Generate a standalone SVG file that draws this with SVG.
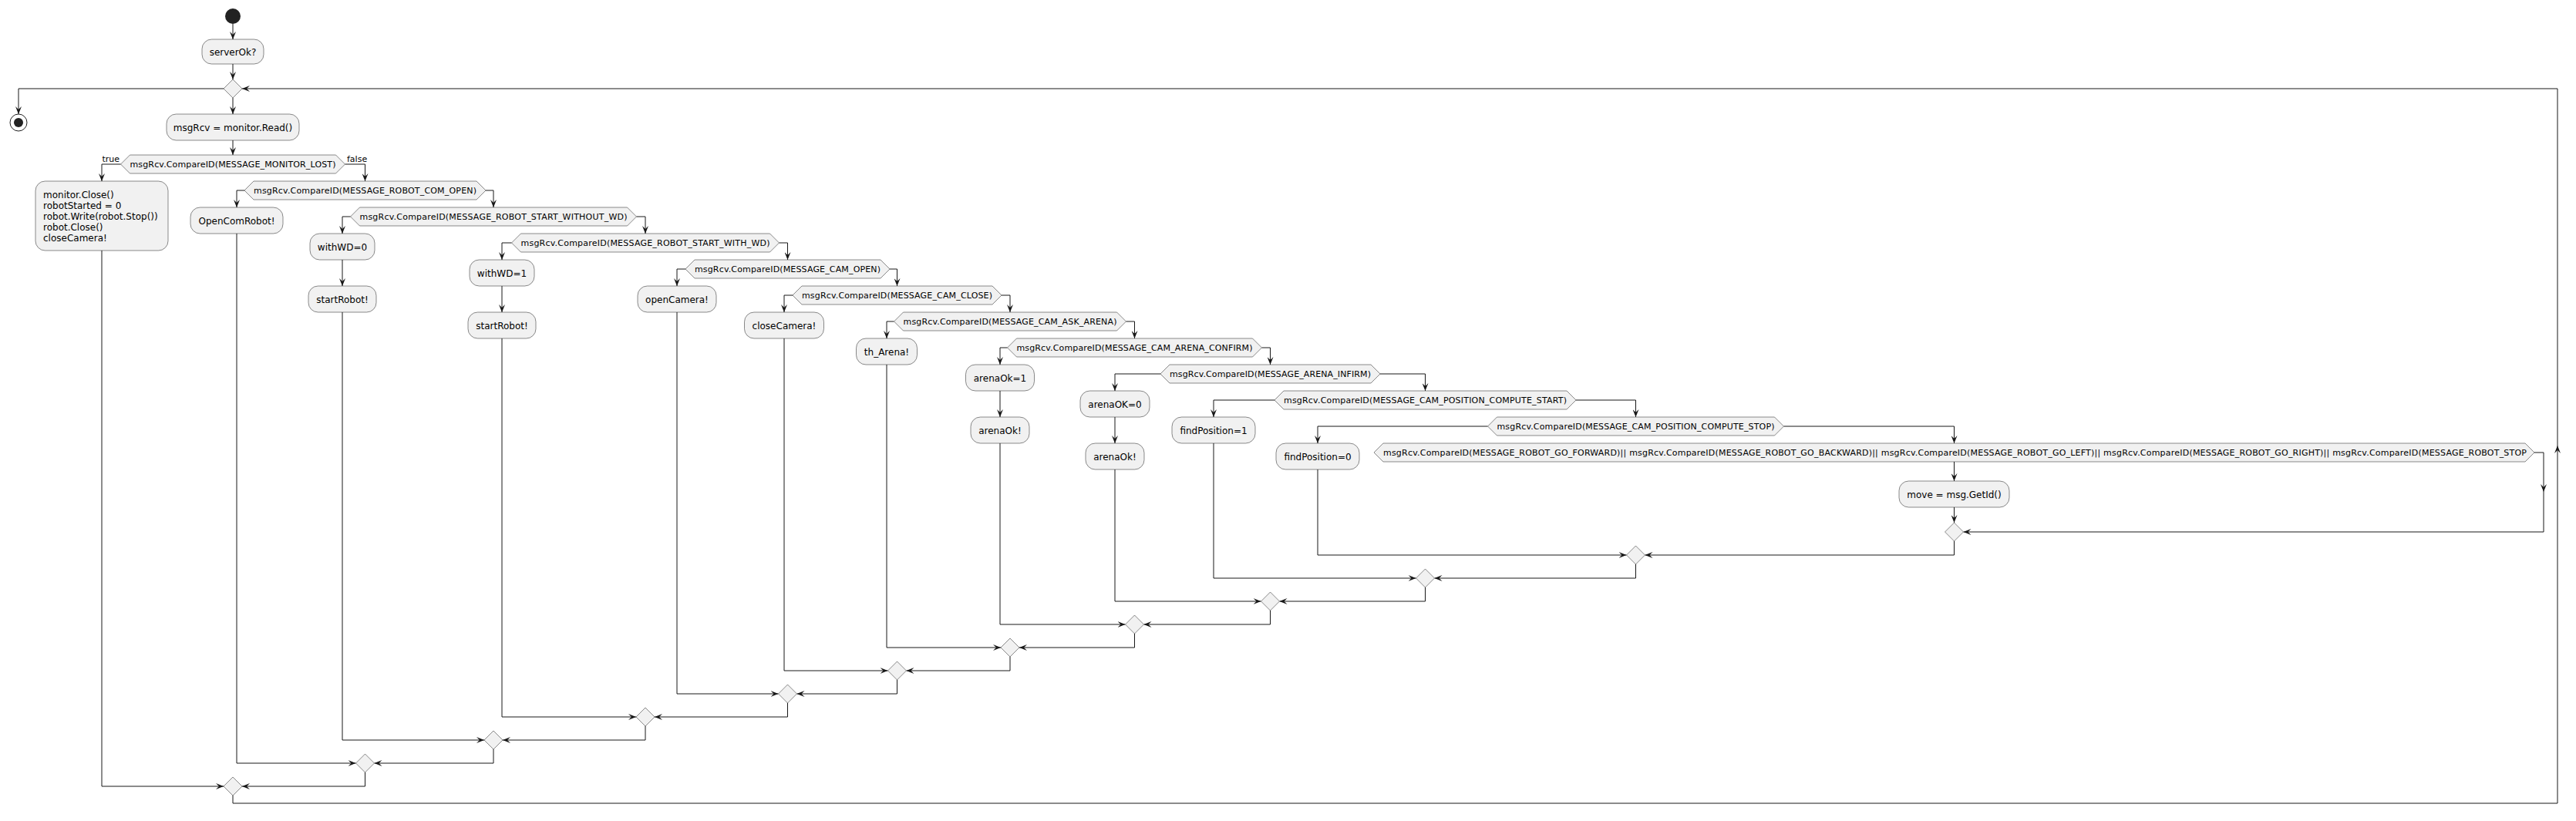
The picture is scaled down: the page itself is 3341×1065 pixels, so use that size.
<svg xmlns="http://www.w3.org/2000/svg" width="3341" height="1065" viewBox="0 0 3341 1065">
<defs>
<style>
.bx{fill:#F1F1F1;stroke:#181818;stroke-width:0.5}
.ln{fill:none;stroke:#181818;stroke-width:1;marker-end:url(#ah)}
.t12{font-family:"DejaVu Sans","Noto Sans",sans-serif;font-size:12px;fill:#000}
.t11{font-family:"DejaVu Sans","Noto Sans",sans-serif;font-size:11px;fill:#000}
.c{text-anchor:middle}
</style>
<marker id="ah" viewBox="0 0 10 8" refX="10" refY="4" markerWidth="10" markerHeight="8" markerUnits="userSpaceOnUse" orient="auto"><path d="M0,0 L10,4 L0,8 L4,4 Z" fill="#181818"/></marker>
</defs>
<rect width="3341" height="1065" fill="#FFFFFF"/>
<g id="connectors">
<path class="ln" d="M302,31 V51"/>
<path class="ln" d="M302,83 V103"/>
<path class="ln" d="M302,127 V148"/>
<path class="ln" d="M302,182 V201"/>
<path class="ln" d="M290,115 H24 V148"/>
<path class="ln" d="M156.5,213 H132 V235"/>
<path class="ln" d="M317,247 H307 V269"/>
<path class="ln" d="M454.5,281 H444 V303"/>
<path class="ln" d="M663.5,315 H651 V337"/>
<path class="ln" d="M889,349 H878 V371"/>
<path class="ln" d="M1028,383 H1017 V405"/>
<path class="ln" d="M1159.5,417 H1150 V439"/>
<path class="ln" d="M1306.5,451 H1297 V473"/>
<path class="ln" d="M1505,485 H1446 V507"/>
<path class="ln" d="M1653,519 H1574 V541"/>
<path class="ln" d="M1929.5,553 H1709 V575"/>
<path class="ln" d="M2534.5,599 V624"/>
<path class="ln" d="M447.5,213 H473.5 V235"/>
<path class="ln" d="M630,247 H640 V269"/>
<path class="ln" d="M825.5,281 H837 V303"/>
<path class="ln" d="M1010.5,315 H1021.5 V337"/>
<path class="ln" d="M1154,349 H1163.5 V371"/>
<path class="ln" d="M1299,383 H1310 V405"/>
<path class="ln" d="M1460.5,417 H1471.5 V439"/>
<path class="ln" d="M1636.5,451 H1647.5 V473"/>
<path class="ln" d="M1790,485 H1848.5 V507"/>
<path class="ln" d="M2044,519 H2121.5 V541"/>
<path class="ln" d="M2313.5,553 H2534.5 V575"/>
<path class="ln" d="M3287,587 H3299 V638"/>
<path class="ln" d="M3299,638 V690 H2546.5"/>
<path class="ln" d="M444,337 V371"/>
<path class="ln" d="M651,371 V405"/>
<path class="ln" d="M1297,507 V541"/>
<path class="ln" d="M1446,541 V575"/>
<path class="ln" d="M132,325 V1020 H290"/>
<path class="ln" d="M307,303 V990 H461.5"/>
<path class="ln" d="M444,405 V960 H628"/>
<path class="ln" d="M651,439 V930 H825"/>
<path class="ln" d="M878,405 V900 H1009.5"/>
<path class="ln" d="M1017,439 V870 H1151.5"/>
<path class="ln" d="M1150,473 V840 H1298"/>
<path class="ln" d="M1297,575 V810 H1459.5"/>
<path class="ln" d="M1446,609 V780 H1635.5"/>
<path class="ln" d="M1574,575 V750 H1836.5"/>
<path class="ln" d="M1709,609 V720 H2109.5"/>
<path class="ln" d="M2534.5,658 V678"/>
<path class="ln" d="M2534.5,702 V720 H2133.5"/>
<path class="ln" d="M2121.5,732 V750 H1860.5"/>
<path class="ln" d="M1848.5,762 V780 H1659.5"/>
<path class="ln" d="M1647.5,792 V810 H1483.5"/>
<path class="ln" d="M1471.5,822 V840 H1322"/>
<path class="ln" d="M1310,852 V870 H1175.5"/>
<path class="ln" d="M1163.5,882 V900 H1033.5"/>
<path class="ln" d="M1021.5,912 V930 H849"/>
<path class="ln" d="M837,942 V960 H652"/>
<path class="ln" d="M640,972 V990 H485.5"/>
<path class="ln" d="M473.5,1002 V1020 H314"/>
<path class="ln" d="M302,1032 V1042 H3317 V578"/>
<path class="ln" d="M3317,578 V115 H314"/>
<text class="t11" x="155" y="210" text-anchor="end">true</text>
<text class="t11" x="450" y="210">false</text>
</g>
<g id="start"><circle cx="302" cy="21" r="10" fill="#222222"/></g>
<g id="stop"><circle cx="24" cy="159" r="11" fill="none" stroke="#222222" stroke-width="1"/><circle cx="24" cy="159" r="6" fill="#222222"/></g>
<g id="serverOk"><rect class="bx" x="262" y="51" width="80" height="32" rx="12.5"/><text class="t12 c" x="302" y="72">serverOk?</text></g>
<g id="loop"><polygon class="bx" points="302,103 314,115 302,127 290,115"/></g>
<g id="read"><rect class="bx" x="216" y="148" width="172" height="34" rx="12.5"/><text class="t12 c" x="302" y="169.5">msgRcv = monitor.Read()</text></g>
<g id="if1"><polygon class="bx" points="168.5,201 435.5,201 447.5,213 435.5,225 168.5,225 156.5,213"/><text class="t11 c" x="302" y="217" textLength="267" lengthAdjust="spacing">msgRcv.CompareID(MESSAGE_MONITOR_LOST)</text></g>
<g id="if2"><polygon class="bx" points="329,235 618,235 630,247 618,259 329,259 317,247"/><text class="t11 c" x="473.5" y="251" textLength="289" lengthAdjust="spacing">msgRcv.CompareID(MESSAGE_ROBOT_COM_OPEN)</text></g>
<g id="if3"><polygon class="bx" points="466.5,269 813.5,269 825.5,281 813.5,293 466.5,293 454.5,281"/><text class="t11 c" x="640" y="285" textLength="347" lengthAdjust="spacing">msgRcv.CompareID(MESSAGE_ROBOT_START_WITHOUT_WD)</text></g>
<g id="if4"><polygon class="bx" points="675.5,303 998.5,303 1010.5,315 998.5,327 675.5,327 663.5,315"/><text class="t11 c" x="837" y="319" textLength="323" lengthAdjust="spacing">msgRcv.CompareID(MESSAGE_ROBOT_START_WITH_WD)</text></g>
<g id="if5"><polygon class="bx" points="901,337 1142,337 1154,349 1142,361 901,361 889,349"/><text class="t11 c" x="1021.5" y="353" textLength="241" lengthAdjust="spacing">msgRcv.CompareID(MESSAGE_CAM_OPEN)</text></g>
<g id="if6"><polygon class="bx" points="1040,371 1287,371 1299,383 1287,395 1040,395 1028,383"/><text class="t11 c" x="1163.5" y="387" textLength="247" lengthAdjust="spacing">msgRcv.CompareID(MESSAGE_CAM_CLOSE)</text></g>
<g id="if7"><polygon class="bx" points="1171.5,405 1448.5,405 1460.5,417 1448.5,429 1171.5,429 1159.5,417"/><text class="t11 c" x="1310" y="421" textLength="277" lengthAdjust="spacing">msgRcv.CompareID(MESSAGE_CAM_ASK_ARENA)</text></g>
<g id="if8"><polygon class="bx" points="1318.5,439 1624.5,439 1636.5,451 1624.5,463 1318.5,463 1306.5,451"/><text class="t11 c" x="1471.5" y="455" textLength="306" lengthAdjust="spacing">msgRcv.CompareID(MESSAGE_CAM_ARENA_CONFIRM)</text></g>
<g id="if9"><polygon class="bx" points="1517,473 1778,473 1790,485 1778,497 1517,497 1505,485"/><text class="t11 c" x="1647.5" y="489" textLength="261" lengthAdjust="spacing">msgRcv.CompareID(MESSAGE_ARENA_INFIRM)</text></g>
<g id="if10"><polygon class="bx" points="1665,507 2032,507 2044,519 2032,531 1665,531 1653,519"/><text class="t11 c" x="1848.5" y="523" textLength="367" lengthAdjust="spacing">msgRcv.CompareID(MESSAGE_CAM_POSITION_COMPUTE_START)</text></g>
<g id="if11"><polygon class="bx" points="1941.5,541 2301.5,541 2313.5,553 2301.5,565 1941.5,565 1929.5,553"/><text class="t11 c" x="2121.5" y="557" textLength="360" lengthAdjust="spacing">msgRcv.CompareID(MESSAGE_CAM_POSITION_COMPUTE_STOP)</text></g>
<g id="if12"><polygon class="bx" points="1794,575 3275,575 3287,587 3275,599 1794,599 1782,587"/><text class="t11 c" x="2535.5" y="591" textLength="1483" lengthAdjust="spacing">msgRcv.CompareID(MESSAGE_ROBOT_GO_FORWARD)|| msgRcv.CompareID(MESSAGE_ROBOT_GO_BACKWARD)|| msgRcv.CompareID(MESSAGE_ROBOT_GO_LEFT)|| msgRcv.CompareID(MESSAGE_ROBOT_GO_RIGHT)|| msgRcv.CompareID(MESSAGE_ROBOT_STOP</text></g>
<g id="monitorLost"><rect class="bx" x="46" y="235" width="172" height="90" rx="12.5"/><text class="t12" x="56" y="256.5">monitor.Close()</text><text class="t12" x="56" y="270.5">robotStarted = 0</text><text class="t12" x="56" y="284.5">robot.Write(robot.Stop())</text><text class="t12" x="56" y="298.5">robot.Close()</text><text class="t12" x="56" y="312.5">closeCamera!</text></g>
<g id="openComRobot"><rect class="bx" x="247" y="269" width="120" height="34" rx="12.5"/><text class="t12 c" x="307" y="290.5">OpenComRobot!</text></g>
<g id="withWD0"><rect class="bx" x="402" y="303" width="84" height="34" rx="12.5"/><text class="t12 c" x="444" y="324.5">withWD=0</text></g>
<g id="startRobot1"><rect class="bx" x="400" y="371" width="88" height="34" rx="12.5"/><text class="t12 c" x="444" y="392.5">startRobot!</text></g>
<g id="withWD1"><rect class="bx" x="609" y="337" width="84" height="34" rx="12.5"/><text class="t12 c" x="651" y="358.5">withWD=1</text></g>
<g id="startRobot2"><rect class="bx" x="607" y="405" width="88" height="34" rx="12.5"/><text class="t12 c" x="651" y="426.5">startRobot!</text></g>
<g id="openCamera"><rect class="bx" x="827" y="371" width="102" height="34" rx="12.5"/><text class="t12 c" x="878" y="392.5">openCamera!</text></g>
<g id="closeCamera"><rect class="bx" x="965.5" y="405" width="103" height="34" rx="12.5"/><text class="t12 c" x="1017" y="426.5">closeCamera!</text></g>
<g id="thArena"><rect class="bx" x="1110.5" y="439" width="79" height="34" rx="12.5"/><text class="t12 c" x="1150" y="460.5">th_Arena!</text></g>
<g id="arenaOk1"><rect class="bx" x="1252.5" y="473" width="89" height="34" rx="12.5"/><text class="t12 c" x="1297" y="494.5">arenaOk=1</text></g>
<g id="arenaOkA"><rect class="bx" x="1259" y="541" width="76" height="34" rx="12.5"/><text class="t12 c" x="1297" y="562.5">arenaOk!</text></g>
<g id="arenaOK0"><rect class="bx" x="1401" y="507" width="90" height="34" rx="12.5"/><text class="t12 c" x="1446" y="528.5">arenaOK=0</text></g>
<g id="arenaOkB"><rect class="bx" x="1408" y="575" width="76" height="34" rx="12.5"/><text class="t12 c" x="1446" y="596.5">arenaOk!</text></g>
<g id="findPosition1"><rect class="bx" x="1520" y="541" width="108" height="34" rx="12.5"/><text class="t12 c" x="1574" y="562.5">findPosition=1</text></g>
<g id="findPosition0"><rect class="bx" x="1655" y="575" width="108" height="34" rx="12.5"/><text class="t12 c" x="1709" y="596.5">findPosition=0</text></g>
<g id="move"><rect class="bx" x="2463" y="624" width="143" height="34" rx="12.5"/><text class="t12 c" x="2534.5" y="645.5">move = msg.GetId()</text></g>
<g id="merge12"><polygon class="bx" points="2534.5,678 2546.5,690 2534.5,702 2522.5,690"/></g>
<g id="merge11"><polygon class="bx" points="2121.5,708 2133.5,720 2121.5,732 2109.5,720"/></g>
<g id="merge10"><polygon class="bx" points="1848.5,738 1860.5,750 1848.5,762 1836.5,750"/></g>
<g id="merge9"><polygon class="bx" points="1647.5,768 1659.5,780 1647.5,792 1635.5,780"/></g>
<g id="merge8"><polygon class="bx" points="1471.5,798 1483.5,810 1471.5,822 1459.5,810"/></g>
<g id="merge7"><polygon class="bx" points="1310,828 1322,840 1310,852 1298,840"/></g>
<g id="merge6"><polygon class="bx" points="1163.5,858 1175.5,870 1163.5,882 1151.5,870"/></g>
<g id="merge5"><polygon class="bx" points="1021.5,888 1033.5,900 1021.5,912 1009.5,900"/></g>
<g id="merge4"><polygon class="bx" points="837,918 849,930 837,942 825,930"/></g>
<g id="merge3"><polygon class="bx" points="640,948 652,960 640,972 628,960"/></g>
<g id="merge2"><polygon class="bx" points="473.5,978 485.5,990 473.5,1002 461.5,990"/></g>
<g id="merge1"><polygon class="bx" points="302,1008 314,1020 302,1032 290,1020"/></g>
</svg>
